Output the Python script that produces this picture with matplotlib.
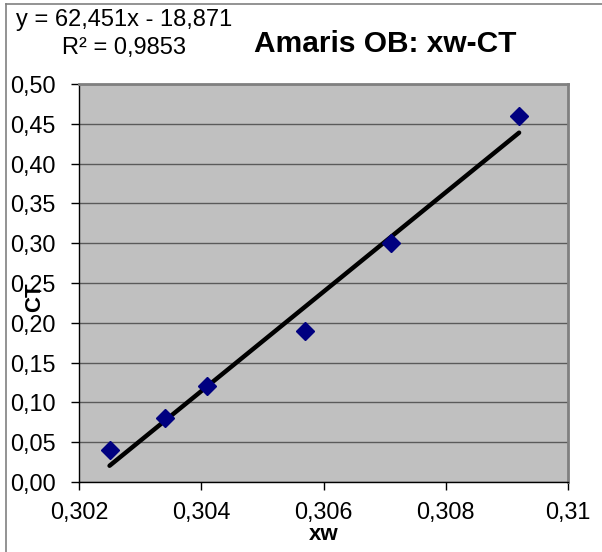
import matplotlib
matplotlib.use("Agg")
import matplotlib.pyplot as plt
from matplotlib.ticker import FuncFormatter
import numpy as np

# Data
xw = [0.3025, 0.3034, 0.3041, 0.3057, 0.3071, 0.3092]
ct = [0.04, 0.08, 0.12, 0.19, 0.30, 0.46]
slope = 62.451
intercept = -18.871
eq_text = "y = 62,451x - 18,871"
r2_text = "R² = 0,9853"
title = "Amaris OB: xw-CT"
x_label = "xw"
y_label = "CT"
x_ticks = [0.302, 0.304, 0.306, 0.308, 0.31]
x_tick_labels = ["0,302", "0,304", "0,306", "0,308", "0,31"]
y_ticks = [0.00, 0.05, 0.10, 0.15, 0.20, 0.25, 0.30, 0.35, 0.40, 0.45, 0.50]

plt.rcParams['font.family'] = ['Liberation Sans', 'DejaVu Sans']

W, H = 602, 552
fig = plt.figure(figsize=(W / 100, H / 100), dpi=100)
ax = fig.add_axes([79 / W, 1 - 482 / H, (568 - 79) / W, (482 - 84) / H])
ax.set_facecolor('#C0C0C0')

# Outer chart border (left and top visible)
fig.add_artist(plt.Line2D([5.5 / W, 5.5 / W], [0, 1 - 4 / H], color='#808080', lw=1.2))
fig.add_artist(plt.Line2D([5.5 / W, 1], [1 - 4 / H, 1 - 4 / H], color='#808080', lw=1.2))

ax.set_xlim(0.302, 0.31)
ax.set_ylim(0.0, 0.5)
ax.set_xticks(x_ticks)
ax.set_xticklabels(x_tick_labels)
ax.set_yticks(y_ticks)
ax.yaxis.set_major_formatter(FuncFormatter(lambda v, p: f"{v:.2f}".replace('.', ',')))

ax.grid(axis='y', color='#5a5a5a', lw=1.0)
ax.set_axisbelow(True)

for s in ['top', 'right']:
    ax.spines[s].set_color('#808080')
    ax.spines[s].set_linewidth(2)
for s in ['left', 'bottom']:
    ax.spines[s].set_color('#000000')
    ax.spines[s].set_linewidth(1)

ax.tick_params(axis='both', direction='out', length=6, width=1, color='black',
               labelsize=16.8, labelcolor='black')
ax.tick_params(axis='x', pad=8)
ax.tick_params(axis='y', pad=11)

# Trendline
xs = np.array([min(xw), max(xw)])
ax.plot(xs, slope * xs + intercept, color='black', lw=3.2, solid_capstyle='round', zorder=3)

# Points
ax.plot(xw, ct, linestyle='none', marker='D', ms=9.5, color='#000080', zorder=4)

ax.set_xlabel(x_label, fontsize=16, fontweight='bold', labelpad=0)
fig.text(35 / W, 1 - 297 / H, y_label, fontsize=16, fontweight='bold', rotation=90,
         ha='center', va='center')

fig.text(385 / W, 1 - 44 / H, title, fontsize=21.5, fontweight='bold', ha='center', va='center')
fig.text(124 / W, 1 - 20 / H, eq_text, fontsize=17, ha='center', va='center')
fig.text(124 / W, 1 - 48 / H, r2_text, fontsize=17, ha='center', va='center')

fig.savefig('out.png', dpi=100)
